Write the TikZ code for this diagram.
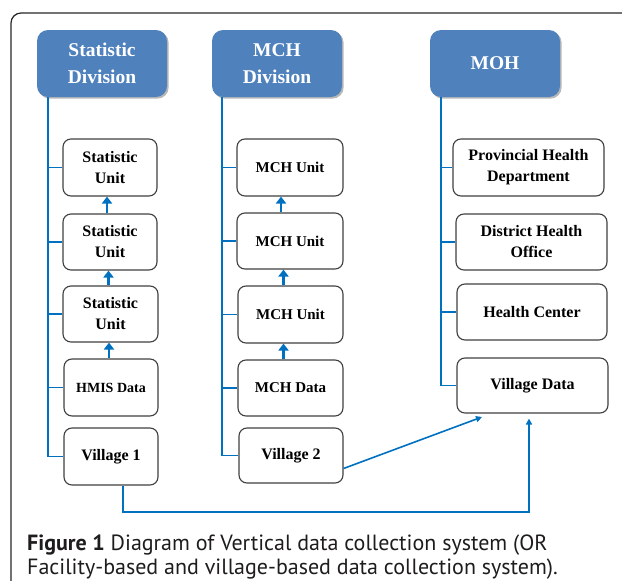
\documentclass[tikz,border=0pt]{standalone}
\usepackage{fontspec}
\setmainfont{Liberation Serif}
\newfontfamily\capfont{PT Sans}
\usetikzlibrary{shadows,arrows.meta}
\definecolor{hdrblue}{RGB}{79,129,189}
\definecolor{conn}{RGB}{0,112,192}
\definecolor{bord}{RGB}{64,64,64}
\definecolor{capgray}{RGB}{30,28,28}
\begin{document}
\begin{tikzpicture}[x=1pt,y=-1pt,
  hdrbox/.style={fill=hdrblue, draw=none, rounded corners=11pt, text=white,
    align=center, inner sep=0pt, font=\bfseries\fontsize{19.5}{27}\selectfont,
    minimum width=130pt, minimum height=67pt,
    drop shadow={shadow xshift=1.6pt, shadow yshift=-1.6pt, fill=black!35, opacity=0.8}},
  box/.style={draw=bord, line width=1.1pt, fill=white, rounded corners=8pt,
    align=center, inner sep=0pt, font=\bfseries\fontsize{16}{21}\selectfont},
  mchbox/.style={box, font=\bfseries\fontsize{15}{21}\selectfont},
  tick/.style={draw=conn, line width=1.6pt},
  uparrow/.style={draw=conn, line width=2.6pt, -{Triangle[length=7pt,width=10pt]}},
  thinarrow/.style={draw=conn, line width=1.6pt, -{Triangle[length=6pt,width=6pt]}},
  captext/.style={anchor=base west, inner sep=0pt, text=capgray, font=\capfont\fontsize{22}{25}\selectfont},
]
\useasboundingbox (0,0) rectangle (622,581);
% frame
\draw[line width=1.2pt, black!85, rounded corners=10pt] (11,600) -- (11,13) -- (640,13);

% headers
\node[hdrbox] (sd) at (102,63.5) {Statistic\\Division};
\node[hdrbox] (md) at (277,63.5) {MCH\\Division};
\node[hdrbox] (moh) at (495,63.5) {MOH};

% statistic column
\node[box, minimum width=94pt, minimum height=57pt] (su1) at (110,167.5) {Statistic\\Unit};
\node[box, minimum width=94pt, minimum height=56pt] (su2) at (110,242) {Statistic\\Unit};
\node[box, minimum width=95pt, minimum height=56pt] (su3) at (110.5,314) {Statistic\\Unit};
\node[box, minimum width=94pt, minimum height=57pt, font=\bfseries\fontsize{14}{18}\selectfont] (hmis) at (111,387.5) {HMIS Data};
\node[box, minimum width=94pt, minimum height=57pt] (v1) at (111,456.5) {Village 1};

% MCH column
\node[mchbox, minimum width=106pt, minimum height=57pt] (mu1) at (290,167.5) {MCH Unit};
\node[mchbox, minimum width=106pt, minimum height=56pt] (mu2) at (290,241) {MCH Unit};
\node[mchbox, minimum width=105pt, minimum height=57pt] (mu3) at (290.5,314.5) {MCH Unit};
\node[mchbox, minimum width=105pt, minimum height=56pt] (mdata) at (290.5,388) {MCH Data};
\node[box, minimum width=104pt, minimum height=55pt] (v2) at (291,455.5) {Village 2};

% MOH column
\node[box, minimum width=151pt, minimum height=57pt] (phd) at (528.5,167.5) {Provincial Health\\Department};
\node[box, minimum width=151pt, minimum height=56pt] (dho) at (531.5,242) {District Health\\Office};
\node[box, minimum width=150pt, minimum height=56pt] (hc) at (532,312) {Health Center};
\node[box, minimum width=151pt, minimum height=55pt] (vd) at (532.5,385.5) {Village Data};

% vertical spines
\coordinate (sdl) at (48,97);
\coordinate (mdl) at (222,97);
\coordinate (mohl) at (441,97);
\draw[tick] (sdl) |- (v1.west);
\draw[tick] (mdl) |- (v2.west);
\draw[tick] (mohl) |- (vd.west);
\foreach \n in {su1,su2,su3,hmis} \draw[tick] (\n.west -| sdl) -- (\n.west);
\foreach \n in {mu1,mu2,mu3,mdata} \draw[tick] (\n.west -| mdl) -- (\n.west);
\foreach \n in {phd,dho,hc} \draw[tick] (\n.west -| mohl) -- (\n.west);

% upward arrows
\draw[uparrow] ([xshift=-3pt]su2.north) -- ([xshift=-3pt]su2.north |- su1.south);
\draw[uparrow] ([xshift=-2pt]su3.north) -- ([xshift=-2pt]su3.north |- su2.south);
\draw[uparrow] ([xshift=-2pt]hmis.north) -- ([xshift=-2pt]hmis.north |- su3.south);
\draw[uparrow] ([xshift=-9pt]mu2.north) -- ([xshift=-9pt]mu2.north |- mu1.south);
\draw[uparrow] ([xshift=-7pt]mu3.north) -- ([xshift=-7pt]mu3.north |- mu2.south);
\draw[uparrow] ([xshift=-7pt]mdata.north) -- ([xshift=-7pt]mdata.north |- mu3.south);

% village connectors
\coordinate (vdin) at (482,417);
\draw[thinarrow] ([yshift=-13pt]v2.east) -- (vdin);
\coordinate (c1) at (123,512);
\coordinate (c2) at (529,512);
\draw[thinarrow, shorten >=5pt] (v1.south -| c1) -- (c1) -- (c2) -- (c2 |- vd.south);

% caption
\node[captext] (cap1) at (27,550) {\textbf{Figure 1} Diagram of Vertical data collection system (OR};
\node[captext] (cap2) at (27,574) {Facility-based and village-based data collection system).};
\end{tikzpicture}
\end{document}
